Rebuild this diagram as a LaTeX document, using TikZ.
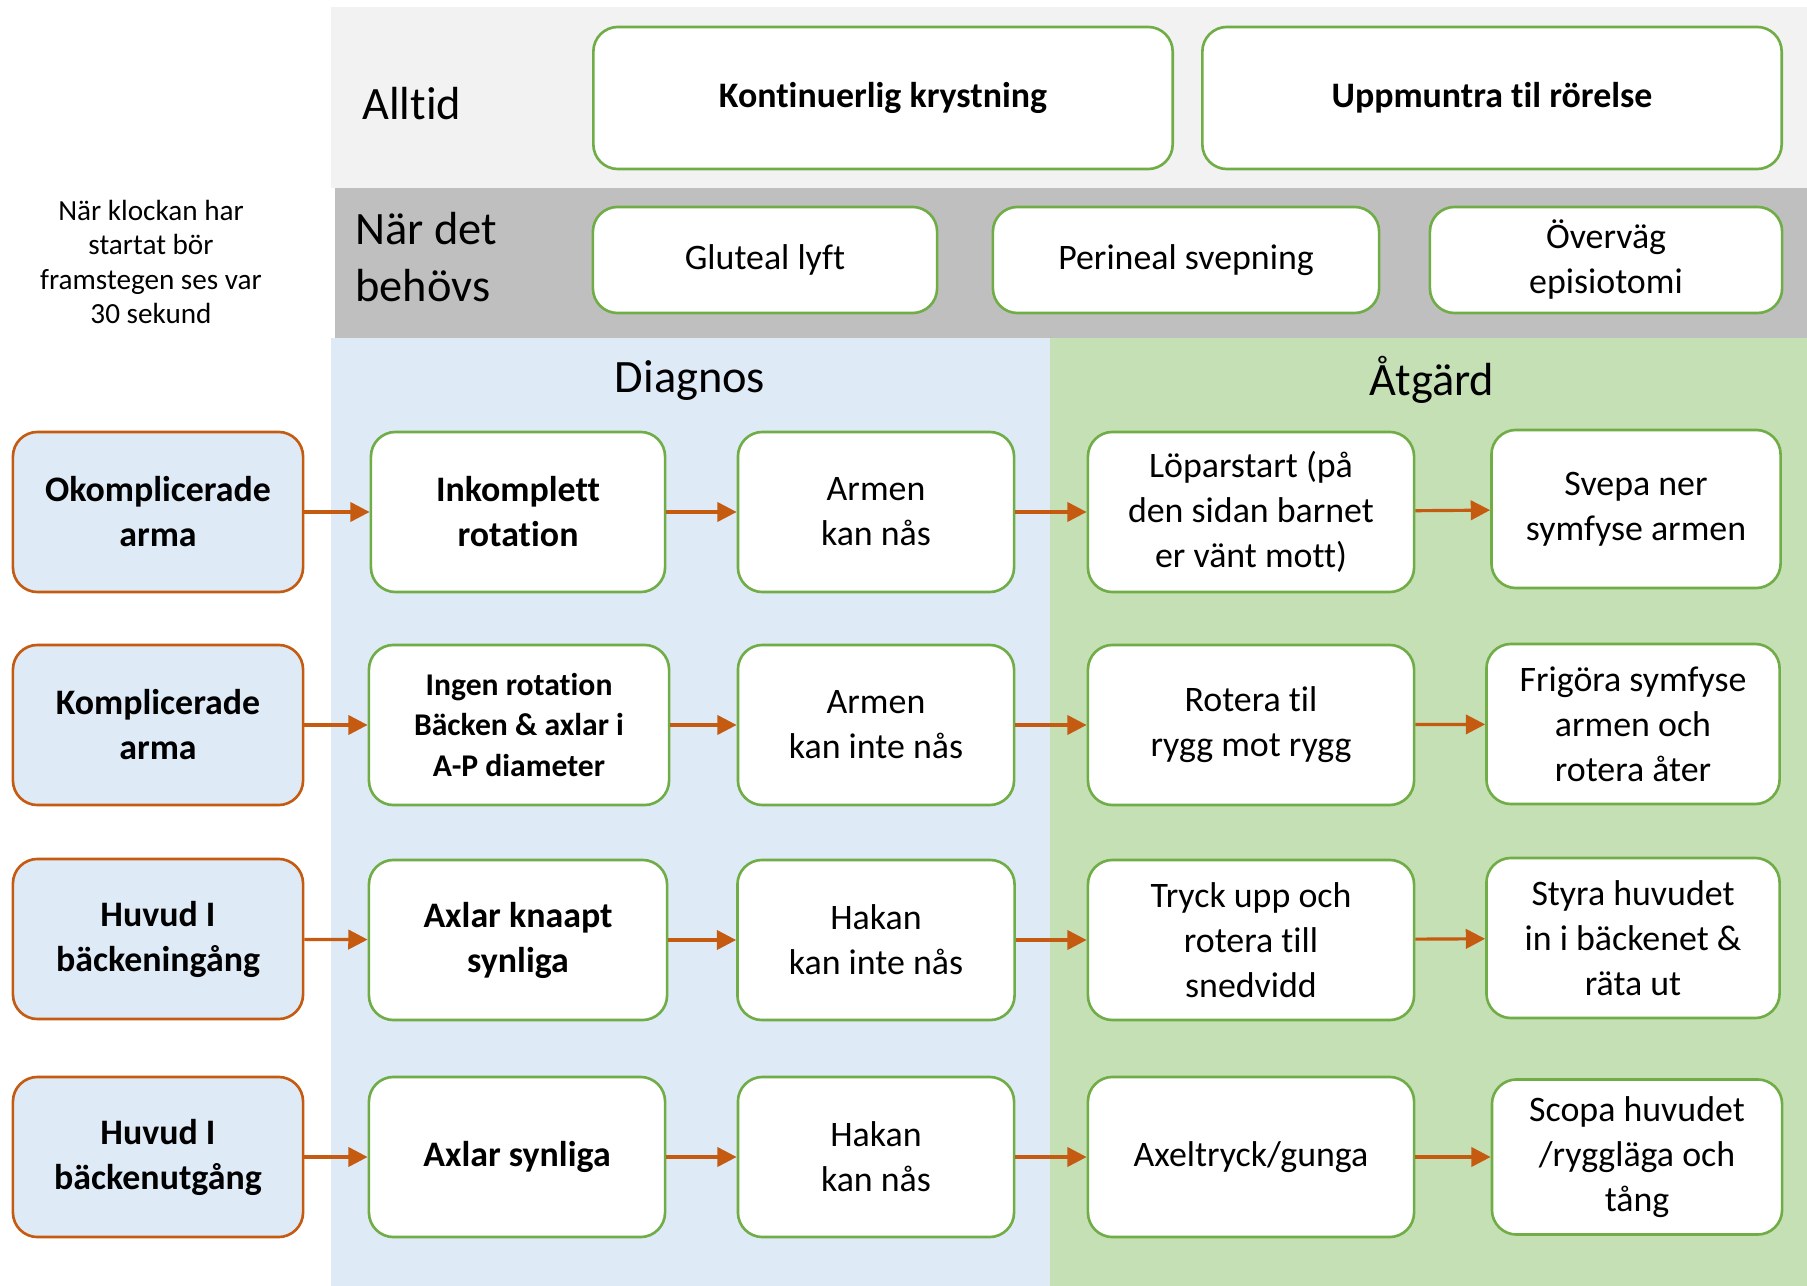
\documentclass[tikz,border=0pt]{standalone}
\usepackage{fontspec}
\setmainfont{Carlito}[Ligatures={TeX,NoCommon}]
\usetikzlibrary{arrows.meta}
\definecolor{boxgreen}{HTML}{70AD47}
\definecolor{boxorange}{HTML}{C55A11}
\definecolor{bandblue}{HTML}{DEEAF6}
\definecolor{bandgreen}{HTML}{C5E0B4}
\definecolor{banddark}{HTML}{BFBFBF}
\definecolor{bandlight}{HTML}{F2F2F2}
\begin{document}
\begin{tikzpicture}[x=0.01cm,y=-0.01cm,
		greenbox/.style={draw=boxgreen,line width=0.75pt,fill=white,rounded corners=7pt,align=center,
				minimum height=1.6cm,font=\fontsize{10.2}{12.8}\selectfont},
		orangebox/.style={greenbox,draw=boxorange,fill=bandblue,minimum width=2.9cm,
				font=\fontsize{10.2}{12.8}\selectfont\bfseries},
		bandtext/.style={font=\fontsize{13.2}{16.1}\selectfont},
		arr/.style={-{Triangle[length=5.5pt,width=5.5pt]},draw=boxorange,fill=boxorange,line width=0.9pt}]
	% bounding box and bands
	\useasboundingbox (0,0) rectangle (1807,1286);
	\fill[white] (0,0) rectangle (1807,1286);
	\fill[bandlight] (331,7) rectangle (1807,188);
	\fill[banddark] (335,188) rectangle (1807,338);
	\fill[bandblue] (331,338) rectangle (1050,1286);
	\fill[bandgreen] (1050,338) rectangle (1807,1286);
	% always / when needed
	\node[bandtext,anchor=west] (alltid) at (350,104) {Alltid};
	\node[greenbox,minimum width=5.79cm,minimum height=1.42cm,font=\fontsize{10.2}{12.8}\selectfont\bfseries]
		(krystning) at (883,98) {Kontinuerlig krystning};
	\node[greenbox,minimum width=5.79cm,minimum height=1.42cm,font=\fontsize{10.2}{12.8}\selectfont\bfseries]
		(rorelse) at (1492,98) {Uppmuntra til rörelse};
	\node[bandtext,anchor=west,align=left] (behovs) at (343,257) {När det\\behövs};
	\node[greenbox,minimum width=3.44cm,minimum height=1.06cm] (gluteal) at (765,260) {Gluteal lyft};
	\node[greenbox,minimum width=3.86cm,minimum height=1.06cm] (perineal) at (1186,260) {Perineal svepning};
	\node[greenbox,minimum width=3.52cm,minimum height=1.06cm] (episiotomi) at (1606,260) {Överväg\\episiotomi};
	\node[align=center,font=\fontsize{8.3}{9.8}\selectfont] (klocka) at (151,262)
		{När klockan har\\startat bör\\framstegen ses var\\30 sekund};
	% column headings
	\node[bandtext] (diagnos) at (690,381) {Diagnos};
	\node[bandtext] (atgard) at (1432,380) {Åtgärd};
	% row 1
	\node[orangebox] (okompl) at (158,512) {Okomplicerade\\arma};
	\node[greenbox,minimum width=2.94cm,font=\fontsize{10.2}{12.8}\selectfont\bfseries] (inkompl) at (518,512) {Inkomplett\\rotation};
	\node[greenbox,minimum width=2.76cm] (armnas) at (876,512) {Armen\\kan nås};
	\node[greenbox,minimum width=3.26cm] (loparstart) at (1251,512) {Löparstart (på\\den sidan barnet\\er vänt mott)};
	\node[greenbox,minimum width=2.89cm,minimum height=1.58cm] (svepa) at (1636,509) {Svepa ner\\symfyse armen};
	% row 2
	\node[orangebox] (kompl) at (158,725) {Komplicerade\\arma};
	\node[greenbox,minimum width=3.0cm,font=\fontsize{9}{11.4}\selectfont\bfseries] (ingenrot) at (519,725)
		{Ingen rotation\\Bäcken \& axlar i\\A-P diameter};
	\node[greenbox,minimum width=2.76cm] (armintenas) at (876,725) {Armen\\kan inte nås};
	\node[greenbox,minimum width=3.26cm] (rygg) at (1251,725) {Rotera til\\rygg mot rygg};
	\node[greenbox,minimum width=2.93cm] (frigora) at (1633,724) {Frigöra symfyse\\armen och\\rotera åter};
	% row 3
	\node[orangebox] (ingang) at (158,939) {Huvud I\\bäckeningång};
	\node[greenbox,minimum width=2.98cm,font=\fontsize{10.2}{12.8}\selectfont\bfseries] (knaapt) at (518,940) {Axlar knaapt\\synliga};
	\node[greenbox,minimum width=2.77cm] (hakanintenas) at (876,940) {Hakan\\kan inte nås};
	\node[greenbox,minimum width=3.26cm] (tryck) at (1251,940) {Tryck upp och\\rotera till\\snedvidd};
	\node[greenbox,minimum width=2.93cm] (styra) at (1633,938) {Styra huvudet\\in i bäckenet \&\\räta ut};
	% row 4
	\node[orangebox] (utgang) at (158,1157) {Huvud I\\bäckenutgång};
	\node[greenbox,minimum width=2.96cm,font=\fontsize{10.2}{12.8}\selectfont\bfseries] (synliga) at (517,1157) {Axlar synliga};
	\node[greenbox,minimum width=2.76cm] (hakannas) at (876,1157) {Hakan\\kan nås};
	\node[greenbox,minimum width=3.26cm] (axeltryck) at (1251,1157) {Axeltryck/gunga};
	\node[greenbox,minimum width=2.9cm,minimum height=1.55cm] (scopa) at (1637,1157) {Scopa huvudet\\/ryggläga och\\tång};
	% arrows
	\foreach \a/\b in {okompl/inkompl,inkompl/armnas,armnas/loparstart,loparstart/svepa,
			kompl/ingenrot,ingenrot/armintenas,armintenas/rygg,rygg/frigora,
			ingang/knaapt,knaapt/hakanintenas,hakanintenas/tryck,tryck/styra,
			utgang/synliga,synliga/hakannas,hakannas/axeltryck,axeltryck/scopa}{
			\draw[arr] (\a) -- (\b);
		}
\end{tikzpicture}
\end{document}
